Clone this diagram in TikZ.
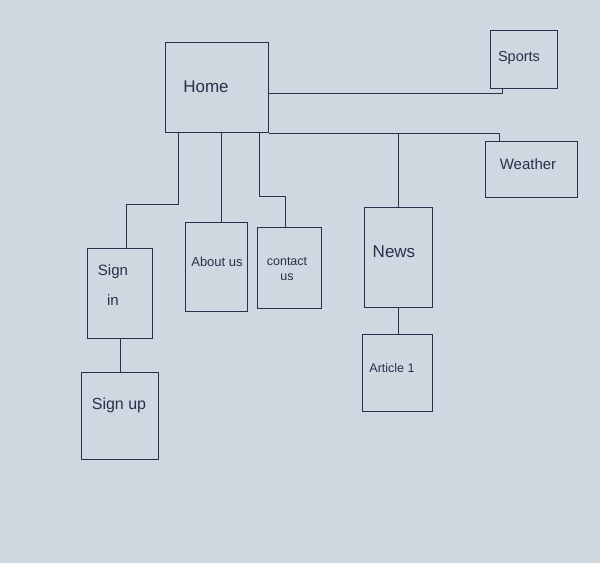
\documentclass[tikz,border=0pt]{standalone}
\usepackage{fontspec}
\setmainfont{Liberation Sans}
\definecolor{paper}{HTML}{CFD7E0}
\definecolor{inkblue}{HTML}{27314B}
\begin{document}
\begin{tikzpicture}[x=1pt,y=-1pt,
  box/.style={draw=inkblue, line width=1.3pt, rectangle, inner sep=0pt, anchor=north west},
  wire/.style={draw=inkblue, line width=1.2pt, line join=round},
  lbl/.style={text=inkblue, font=\fontsize{13}{16}\selectfont, align=center, inner sep=0pt}]

% sheet of paper
\fill[paper] (0,0) rectangle (600,563);
\useasboundingbox (0,0) rectangle (600,563);

% pages
\node[box, minimum width=103pt, minimum height=90pt]  (home)    at (165,42)  {};
\node[box, minimum width=67pt,  minimum height=58pt]  (sports)  at (490,30)  {};
\node[box, minimum width=92pt,  minimum height=56pt]  (weather) at (485,141) {};
\node[box, minimum width=65pt,  minimum height=90pt]  (signin)  at (87,248)  {};
\node[box, minimum width=62pt,  minimum height=89pt]  (about)   at (185,222) {};
\node[box, minimum width=64pt,  minimum height=81pt]  (contact) at (257,227) {};
\node[box, minimum width=68pt,  minimum height=100pt] (news)    at (364,207) {};
\node[box, minimum width=70pt,  minimum height=77pt]  (article) at (362,334) {};
\node[box, minimum width=77pt,  minimum height=87pt]  (signup)  at (81,372)  {};

% page titles
\node[lbl, font=\fontsize{17}{20}\selectfont] (thome) at (206,87) {Home};
\node[lbl, font=\fontsize{14.5}{17}\selectfont] (tsports) at (519,58) {Sports};
\node[lbl, font=\fontsize{15}{18}\selectfont] (tweather) at (528,164) {Weather};
\node[lbl, font=\fontsize{15}{30}\selectfont] (tsignin) at (113,285) {Sign\\in};
\node[lbl] (tabout) at (217,262) {About us};
\node[lbl, font=\fontsize{12.5}{15}\selectfont] (tcontact) at (287,269) {contact\\us};
\node[lbl, font=\fontsize{17}{20}\selectfont] (tnews) at (394,252) {News};
\node[lbl, font=\fontsize{12.5}{15}\selectfont] (tarticle) at (392,368) {Article 1};
\node[lbl, font=\fontsize{16}{19}\selectfont] (tsignup) at (119,405) {Sign up};

% links between pages
\draw[wire] ([yshift=-6pt]home.east) -| ([xshift=-21.5pt]sports.south);
\draw[wire] (home.south east) -| ([xshift=-32pt]weather.north);
\draw[wire] (news.north |- home.south) -- (news.north);
\draw[wire] ([xshift=-38.5pt]home.south) -- ++(0,71) -| ([xshift=6.5pt]signin.north);
\draw[wire] ([xshift=5pt]about.north |- home.south) -- ([xshift=5pt]about.north);
\draw[wire] ([xshift=42.5pt]home.south) -- ++(0,63) -| ([xshift=-4pt]contact.north);
\draw[wire] (signin.south) -- (signin.south |- signup.north);
\draw[wire] (news.south) -- (news.south |- article.north);
\end{tikzpicture}
\end{document}
